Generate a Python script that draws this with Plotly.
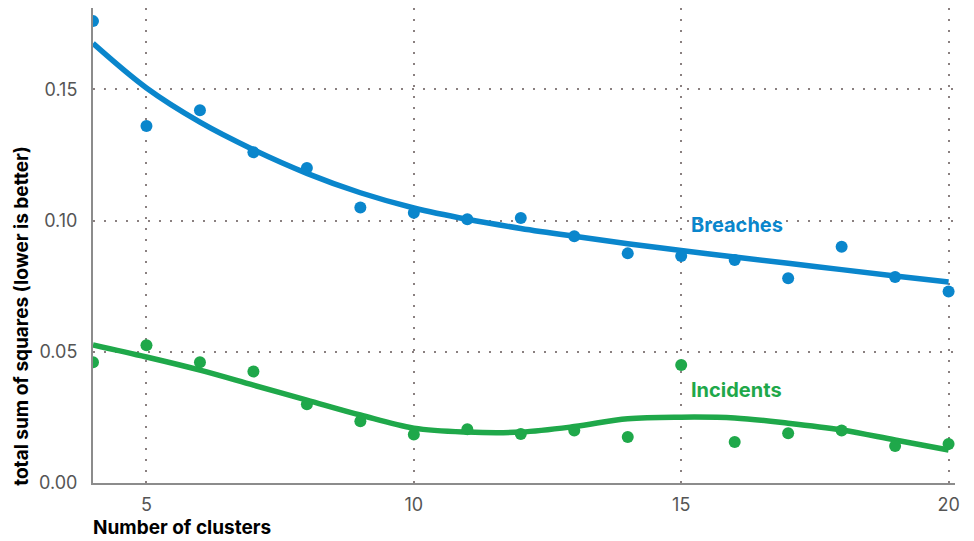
import plotly.graph_objects as go

# values
clusters = list(range(4, 21))
breaches = [0.176, 0.136, 0.142, 0.126, 0.120, 0.105, 0.103, 0.1005, 0.101,
            0.094, 0.0875, 0.0865, 0.085, 0.078, 0.090, 0.0785, 0.073]
incidents = [0.046, 0.0525, 0.046, 0.0425, 0.030, 0.0235, 0.0185, 0.0205, 0.0187,
             0.020, 0.0175, 0.045, 0.0156, 0.019, 0.020, 0.0141, 0.0149]

# smoothed trend lines, as drawn in the reference
breach_fit = [0.1675, 0.1505, 0.1375, 0.127, 0.118, 0.1106, 0.1048, 0.1005, 0.0970,
              0.0940, 0.0912, 0.0886, 0.0861, 0.0837, 0.0813, 0.0789, 0.0766]
incident_fit = [0.0526, 0.048, 0.043, 0.0373, 0.0316, 0.0259, 0.0209, 0.0194, 0.0194,
                0.0215, 0.0245, 0.0251, 0.0248, 0.0228, 0.0202, 0.0164, 0.0126]

x_ticks = [5, 10, 15, 20]
y_ticks = [0.00, 0.05, 0.10, 0.15]

BLUE = "#0a86cc"
GREEN = "#1fa84a"
FONT = "Inter"

fig = go.Figure()

for fit, pts, color in [(breach_fit, breaches, BLUE), (incident_fit, incidents, GREEN)]:
    fig.add_trace(
        go.Scatter(
            x=clusters, y=fit, mode="lines",
            line=dict(color=color, width=5.5, shape="spline", smoothing=1.0),
            hoverinfo="skip",
        )
    )
    fig.add_trace(
        go.Scatter(
            x=clusters, y=pts, mode="markers",
            marker=dict(color=color, size=12),
        )
    )

# series labels
fig.add_annotation(x=15.15, y=0.0985, text="<b>Breaches</b>", showarrow=False,
                   xanchor="left", font=dict(family=FONT, size=20, color=BLUE))
fig.add_annotation(x=15.15, y=0.0355, text="<b>Incidents</b>", showarrow=False,
                   xanchor="left", font=dict(family=FONT, size=20, color=GREEN))

# axis titles
fig.add_annotation(xref="paper", yref="paper", x=0, y=0.352, xshift=-71,
                   xanchor="center", yanchor="middle",
                   text="<b>total sum of squares (lower is better)</b>", textangle=-90,
                   showarrow=False, font=dict(family=FONT, size=19, color="black"))
fig.add_annotation(xref="paper", yref="paper", x=0, y=0, xanchor="left", yanchor="middle",
                   yshift=-44, xshift=-2, text="<b>Number of clusters</b>", showarrow=False,
                   font=dict(family=FONT, size=19, color="black"))

# the page puts the figure 8px in from the top-left corner, so it is sized to fit
fig.update_layout(
    width=966,
    height=533,
    margin=dict(l=85, r=19, t=0, b=58),
    plot_bgcolor="white",
    paper_bgcolor="white",
    showlegend=False,
    font=dict(family=FONT, size=18, color="#555555"),
    xaxis=dict(
        range=[4, 20.12], tickvals=x_ticks, ticks="",
        ticklabelstandoff=4,
        showgrid=True, gridcolor="#8a8080", gridwidth=2, griddash="2px,9px",
        showline=True, linecolor="#8c8c8c", linewidth=2,
        zeroline=False,
    ),
    yaxis=dict(
        range=[0, 0.181], tickvals=y_ticks, tickformat=".2f", ticks="",
        ticklabelstandoff=10,
        showgrid=True, gridcolor="#8a8080", gridwidth=2, griddash="2px,9px",
        showline=True, linecolor="#8c8c8c", linewidth=2,
        zeroline=False,
    ),
)

fig.write_html("out.html")
